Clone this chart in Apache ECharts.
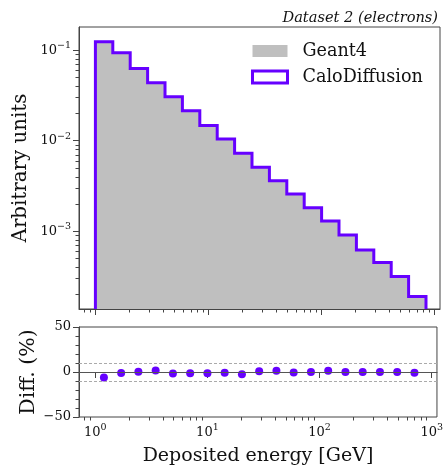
<!DOCTYPE html>
<html>
<head>
<meta charset="utf-8">
<script src="https://cdn.jsdelivr.net/npm/echarts@6/dist/echarts.min.js"></script>
<style>
html, body { margin: 0; padding: 0; background: #fff; }
#main { width: 446px; height: 467px; }
</style>
</head>
<body>
<div id="main"></div>
<script>
// histogram bin edges (GeV) and bin centers
const binEdges = [1, 1.425, 2.031, 2.894, 4.125, 5.878, 8.377, 11.94, 17.01, 24.24,
  34.55, 49.24, 70.17, 100.0, 142.5, 203.1, 289.4, 412.5, 587.8, 837.7];
const binCenters = [1.194, 1.701, 2.424, 3.455, 4.924, 7.017, 10.0, 14.25, 20.31, 28.94,
  41.25, 58.78, 83.77, 119.4, 170.1, 242.4, 345.5, 492.4, 701.7];

const geant4 = [0.1255, 0.0940, 0.0626, 0.0430, 0.0309, 0.0217, 0.0149, 0.01052, 0.00743, 0.00505,
  0.00357, 0.00260, 0.00182, 0.00128, 0.000912, 0.000622, 0.000452, 0.000317, 0.000193];
const caloDiffusion = [0.1236, 0.0933, 0.0628, 0.0436, 0.0305, 0.0214, 0.0147, 0.01045, 0.00727, 0.00509,
  0.00362, 0.00258, 0.00182, 0.00130, 0.000913, 0.000623, 0.000452, 0.000317, 0.000191];
const diffPct = [-6.2, -1.0, 0.3, 1.6, -1.6, -1.4, -1.4, -0.8, -2.4, 0.8,
  1.4, -0.6, 0.1, 1.4, 0.1, 0.1, 0.0, 0.1, -0.9];

const xTickValues = [1, 10, 100, 1000];
const xTickExps = ['0', '1', '2', '3'];
const yTickValues = [0.001, 0.01, 0.1];
const yTickExps = ['−3', '−2', '−1'];
const minorSteps = [2, 3, 4, 5, 6, 7, 8, 9];

const xMin = 0.716, xMax = 1114;
const yMin = 1.39e-4, yMax = 0.18;

const purple = '#6600ff';
const gray = '#bfbfbf';
const axisCol = '#444';
const font = 'DejaVu Serif';

function minorTicks(decades, lo, hi) {
  let out = [];
  decades.forEach(d => minorSteps.forEach(m => {
    let v = d * m;
    if (v > lo && v < hi) out.push(v);
  }));
  return out;
}
const xMinor = minorTicks([0.1, 1, 10, 100, 1000], xMin, xMax);
const yMinor = minorTicks([0.0001, 0.001, 0.01, 0.1], yMin, yMax);

// step outline from edges + heights
function stepPoints(vals) {
  let pts = [[binEdges[0], yMin]];
  for (let i = 0; i < vals.length; i++) {
    pts.push([binEdges[i], vals[i]]);
    pts.push([binEdges[i + 1], vals[i]]);
  }
  pts.push([binEdges[binEdges.length - 1], yMin]);
  return pts;
}

// "10" + superscript exponent, as rich text
function powLabel(values, exps) {
  return function (v) {
    for (let i = 0; i < values.length; i++) {
      if (Math.abs(Math.log10(v) - Math.log10(values[i])) < 1e-6) return '{b|10}{s|' + exps[i] + '}';
    }
    return '';
  };
}
const powRich = {
  b: { fontFamily: font, fontSize: 13, lineHeight: 19, color: '#111' },
  s: { fontFamily: font, fontSize: 9.5, lineHeight: 10, verticalAlign: 'top', color: '#111' }
};

function xAxisCfg(grid, major, withLabels) {
  return {
    type: 'log', logBase: 10, gridIndex: grid, position: 'bottom',
    min: xMin, max: xMax,
    axisLine: { show: major, lineStyle: { color: axisCol, width: 1 } },
    axisTick: {
      show: true, inside: false, length: major ? 6 : 3.5,
      customValues: major ? xTickValues : xMinor,
      lineStyle: { color: axisCol, width: 1 }
    },
    axisLabel: withLabels ? {
      show: true, margin: 6, customValues: xTickValues,
      formatter: powLabel(xTickValues, xTickExps), rich: powRich
    } : { show: false },
    splitLine: { show: false },
    minorTick: { show: false }
  };
}

const chart = echarts.init(document.getElementById('main'));
chart.setOption({
  animation: false,
  backgroundColor: '#fff',
  title: {
    text: 'Dataset 2 (electrons)', right: 3, top: 6,
    textStyle: { fontFamily: font, fontStyle: 'italic', fontWeight: 'normal', fontSize: 14.6, color: '#111' }
  },
  legend: {
    orient: 'vertical', left: 246, top: 37,
    itemWidth: 35, itemHeight: 12, itemGap: 8,
    textStyle: { fontFamily: font, fontSize: 17.6, color: '#111', padding: [0, 0, 0, 10] },
    data: [
      { name: 'Geant4', icon: 'rect', itemStyle: { color: gray, borderWidth: 0 } },
      { name: 'CaloDiffusion', icon: 'rect', itemStyle: { color: '#fff', borderColor: purple, borderWidth: 3 } }
    ]
  },
  grid: [
    { left: 79, top: 27, width: 361, height: 282, show: true, borderColor: axisCol, borderWidth: 1, backgroundColor: 'transparent' },
    { left: 79, top: 327, width: 361, height: 94, show: true, borderColor: axisCol, borderWidth: 1, backgroundColor: 'transparent' }
  ],
  xAxis: [
    xAxisCfg(0, true, false),
    xAxisCfg(0, false, false),
    Object.assign(xAxisCfg(1, true, true), {
      name: 'Deposited energy [GeV]', nameLocation: 'middle', nameGap: 30,
      nameTextStyle: { fontFamily: font, fontSize: 19, color: '#111' }
    }),
    xAxisCfg(1, false, false)
  ],
  yAxis: [
    {
      type: 'log', logBase: 10, gridIndex: 0, position: 'left', min: yMin, max: yMax,
      name: 'Arbitrary units', nameLocation: 'middle', nameGap: 48, nameMoveOverlap: false,
      nameTextStyle: { fontFamily: font, fontSize: 19.8, color: '#111' },
      axisLine: { show: true, lineStyle: { color: axisCol, width: 1 } },
      axisTick: { show: true, length: 6, customValues: yTickValues, lineStyle: { color: axisCol } },
      axisLabel: { margin: 8, customValues: yTickValues, formatter: powLabel(yTickValues, yTickExps), rich: powRich },
      splitLine: { show: false }
    },
    {
      type: 'log', logBase: 10, gridIndex: 0, position: 'left', min: yMin, max: yMax,
      axisLine: { show: false },
      axisTick: { show: true, length: 3.5, customValues: yMinor, lineStyle: { color: axisCol } },
      axisLabel: { show: false },
      splitLine: { show: false }
    },
    {
      type: 'value', gridIndex: 1, position: 'left', min: -50, max: 50, interval: 50,
      name: 'Diff. (%)', nameLocation: 'middle', nameGap: 40, nameMoveOverlap: false,
      nameTextStyle: { fontFamily: font, fontSize: 20.5, color: '#111' },
      axisLine: { show: true, lineStyle: { color: axisCol, width: 1 } },
      axisTick: { show: true, length: 6, lineStyle: { color: axisCol } },
      minorTick: { show: true, splitNumber: 5, length: 3.5, lineStyle: { color: axisCol } },
      axisLabel: {
        margin: 8, fontFamily: font, fontSize: 13, color: '#111',
        formatter: v => (v < 0 ? '−' + Math.abs(v) : '' + v)
      },
      splitLine: { show: false }
    }
  ],
  series: [
    {
      name: 'Geant4', type: 'line', xAxisIndex: 0, yAxisIndex: 0,
      data: stepPoints(geant4), showSymbol: false, symbol: 'none',
      lineStyle: { width: 0 }, itemStyle: { color: gray },
      areaStyle: { color: gray, opacity: 1, origin: 'start' }, z: 1
    },
    {
      name: 'CaloDiffusion', type: 'line', xAxisIndex: 0, yAxisIndex: 0,
      data: stepPoints(caloDiffusion), showSymbol: false, symbol: 'none',
      lineStyle: { width: 3, color: purple, join: 'miter' }, itemStyle: { color: purple }, z: 2
    },
    {
      name: 'diff', type: 'scatter', xAxisIndex: 2, yAxisIndex: 2,
      data: binCenters.map((x, i) => [x, diffPct[i]]),
      symbolSize: 8, itemStyle: { color: purple, opacity: 1 }, z: 3,
      markLine: {
        silent: true, symbol: 'none', label: { show: false }, animation: false,
        data: [
          { yAxis: 0, lineStyle: { color: '#555', width: 1.2, type: 'solid' } },
          { yAxis: 10, lineStyle: { color: '#aaa', width: 1, type: [3, 2] } },
          { yAxis: -10, lineStyle: { color: '#aaa', width: 1, type: [3, 2] } }
        ]
      }
    }
  ]
});
</script>
</body>
</html>
